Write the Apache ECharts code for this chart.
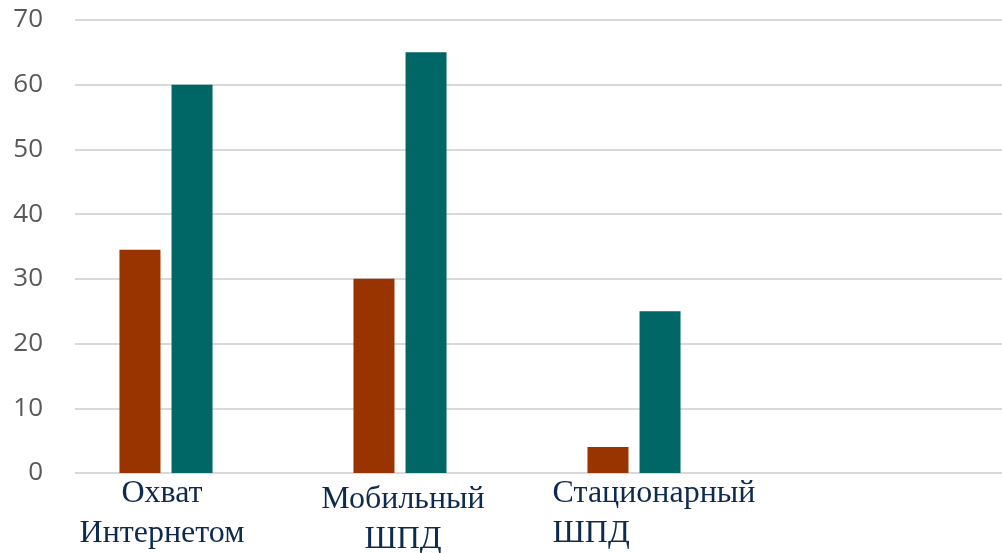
<!DOCTYPE html>
<html>
<head>
<meta charset="utf-8">
<script src="https://cdn.jsdelivr.net/npm/echarts@6/dist/echarts.min.js"></script>
<style>
html,body{margin:0;padding:0;background:#fff;}
#chart{width:1002px;height:553px;}
</style>
</head>
<body>
<div id="chart"></div>
<script>
var categories = ['Охват\nИнтернетом', 'Мобильный\nШПД', 'Стационарный\nШПД', ''];
var series1 = [34.5, 30, 4, null];
var series2 = [60, 65, 25, null];
var yTicks = [0, 10, 20, 30, 40, 50, 60, 70];

var labelPads = [[0, 8, 0, 0], [6, 0, 0, 6], [0, 0, 0, 40], [0, 0, 0, 0]];
var chart = echarts.init(document.getElementById('chart'));
var catData = categories.map(function (c, i) {
  return { value: c, textStyle: { padding: labelPads[i] } };
});
chart.setOption({
  animation: false,
  grid: [
    { left: 75, right: 0, top: 20, bottom: 80, outerBoundsMode: 'none', containLabel: false },
    { left: 49, width: 936, top: 20, bottom: 80, outerBoundsMode: 'none', containLabel: false }
  ],
  xAxis: [
    { gridIndex: 0, type: 'category', data: [''], show: false },
    {
      gridIndex: 1, type: 'category', data: catData,
      axisLine: { show: false }, axisTick: { show: false },
      axisLabel: {
        interval: 0, margin: 1,
        fontFamily: 'Liberation Serif', fontSize: 32, lineHeight: 40,
        color: '#0e2b4e',
        formatter: function (v, i) {
          if (i === 2) {
            var p = v.split('\n');
            return '{l|' + p[0] + '}\n{l|' + p[1] + '}';
          }
          return v;
        },
        rich: { l: { align: 'left', fontFamily: 'Liberation Serif', fontSize: 32, lineHeight: 40, color: '#0e2b4e' } }
      }
    }
  ],
  yAxis: [
    {
      gridIndex: 0, type: 'value', min: yTicks[0], max: yTicks[yTicks.length - 1], interval: 10,
      axisLine: { show: false }, axisTick: { show: false },
      axisLabel: { margin: 32, fontFamily: 'Open Sans', fontSize: 26, color: '#595959' },
      splitLine: { lineStyle: { color: '#d9d9d9', width: 2 } }
    },
    {
      gridIndex: 1, type: 'value', min: 0, max: 70, interval: 10, show: false,
      splitLine: { show: false }
    }
  ],
  series: [
    { name: 'Ряд 1', type: 'bar', xAxisIndex: 1, yAxisIndex: 1, data: series1, barWidth: 41, barGap: '27%', itemStyle: { color: '#993300' } },
    { name: 'Ряд 2', type: 'bar', xAxisIndex: 1, yAxisIndex: 1, data: series2, barWidth: 41, barGap: '27%', itemStyle: { color: '#006666' } }
  ]
});
</script>
</body>
</html>
